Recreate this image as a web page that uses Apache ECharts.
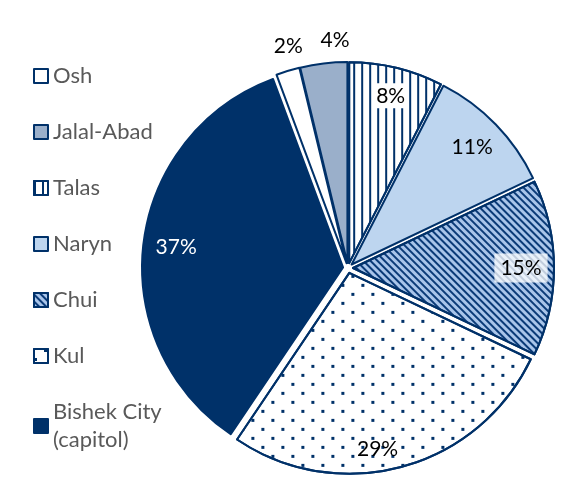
<!DOCTYPE html>
<html>
<head>
<meta charset="utf-8">
<script src="https://cdn.jsdelivr.net/npm/echarts@6/dist/echarts.min.js"></script>
<style>
  html, body { margin: 0; padding: 0; background: #fff; }
  #chart { width: 563px; height: 504px; }
</style>
</head>
<body>
<div id="chart"></div>
<script>
// regions in legend order, share of respondents (%)
var regions = ['Osh', 'Jalal-Abad', 'Talas', 'Naryn', 'Chui', 'Kul', 'Bishek City\n(capitol)'];
var shares = [2, 4, 8, 11, 15, 29, 37];
// labels drawn just outside the pie for the thin slices
var outerLabel = [true, true, false, false, false, false, false];

var navy = '#003169';
var fills = ['#ffffff', '#9aafca', '#ffffff', '#bdd5ef', '#a9c5ea', '#ffffff', navy];
var decals = [
    null,
    null,
    { symbol: 'rect', symbolSize: 1, dashArrayX: [2, 6], dashArrayY: [10, 0], color: navy },
    null,
    { symbol: 'rect', symbolSize: 1, dashArrayX: [10, 0], dashArrayY: [2, 3], rotation: Math.PI / 4, color: '#0b3b78' },
    { symbol: 'rect', symbolSize: 1, dashArrayX: [[3, 17], [0, 10, 3, 7]], dashArrayY: [3, 6], color: navy },
    null
];

var total = shares.reduce(function (a, b) { return a + b; }, 0);
var start = 90 + (shares[0] + shares[1]) / total * 360;
var font = 'Lato, "Open Sans", sans-serif';

var mainData = regions.map(function (name, i) {
    var style = { color: fills[i] };
    if (decals[i]) style.decal = decals[i];
    return { name: name, value: shares[i], selected: true, itemStyle: style };
});

function labelData(outer) {
    return regions.map(function (name, i) {
        var lbl = { show: outerLabel[i] === outer };
        if (i === 6) lbl.color = '#ffffff';
        if (i === 4) { lbl.backgroundColor = 'rgba(255,255,255,0.75)'; lbl.padding = [5, 6, 3, 6]; }
        if (i === 2) { lbl.backgroundColor = '#ffffff'; lbl.padding = [3, 3, 1, 3]; lbl.offset = [2, -4]; }
        if (i === 5) lbl.offset = [-16, 14];
        if (i === 0) lbl.offset = [7, -3];
        if (i === 1) lbl.offset = [14, -1];
        return { name: name, value: shares[i], label: lbl };
    });
}

var myChart = echarts.init(document.getElementById('chart'));

var option = {
    animation: false,
    legend: {
        data: regions,
        orient: 'vertical',
        left: 28,
        top: 57,
        icon: 'rect',
        itemWidth: 14,
        itemHeight: 14,
        itemGap: 28,
        selectedMode: false,
        textStyle: { fontFamily: font, fontSize: 22, color: '#595959', lineHeight: 28 }
    },
    series: [
        {
            name: 'regions',
            type: 'pie',
            center: [348, 268],
            radius: 201,
            startAngle: start,
            selectedMode: 'multiple',
            selectedOffset: 5,
            itemStyle: { borderColor: navy, borderWidth: 2 },
            select: { itemStyle: { borderColor: navy, borderWidth: 2 } },
            emphasis: { disabled: true },
            label: { show: false },
            labelLine: { show: false },
            data: mainData
        },
        {
            name: 'inner labels',
            type: 'pie',
            center: [348, 268],
            radius: [139, 201],
            startAngle: start,
            silent: true,
            z: 5,
            itemStyle: { color: 'rgba(0,0,0,0)', borderWidth: 0 },
            emphasis: { disabled: true },
            label: {
                position: 'inside',
                formatter: '{c}%',
                fontFamily: font,
                fontSize: 21,
                color: '#000000'
            },
            labelLine: { show: false },
            data: labelData(false)
        },
        {
            name: 'outer labels',
            type: 'pie',
            center: [348, 268],
            radius: [201, 250],
            startAngle: start,
            silent: true,
            z: 5,
            itemStyle: { color: 'rgba(0,0,0,0)', borderWidth: 0 },
            emphasis: { disabled: true },
            label: {
                position: 'inside',
                formatter: '{c}%',
                fontFamily: font,
                fontSize: 21,
                color: '#000000'
            },
            labelLine: { show: false },
            data: labelData(true)
        }
    ]
};

myChart.setOption(option);
</script>
</body>
</html>
